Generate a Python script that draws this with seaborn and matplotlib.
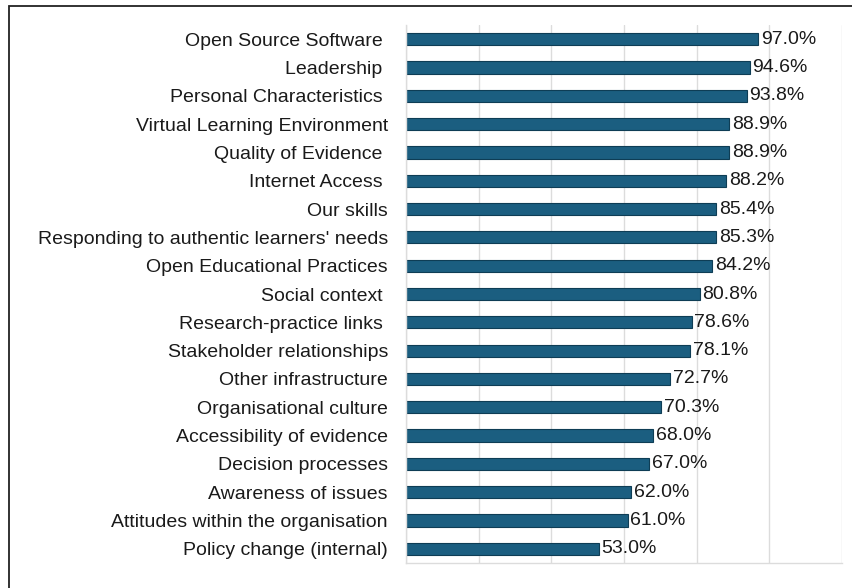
import matplotlib
matplotlib.use("Agg")
import matplotlib.pyplot as plt
import seaborn as sns
import pandas as pd
from matplotlib.patches import Rectangle

factors = [
    "Open Source Software ",
    "Leadership ",
    "Personal Characteristics ",
    "Virtual Learning Environment",
    "Quality of Evidence ",
    "Internet Access ",
    "Our skills",
    "Responding to authentic learners' needs",
    "Open Educational Practices",
    "Social context ",
    "Research-practice links ",
    "Stakeholder relationships",
    "Other infrastructure",
    "Organisational culture",
    "Accessibility of evidence",
    "Decision processes",
    "Awareness of issues",
    "Attitudes within the organisation",
    "Policy change (internal)",
]
percentages = [97.0, 94.6, 93.8, 88.9, 88.9, 88.2, 85.4, 85.3, 84.2, 80.8,
               78.6, 78.1, 72.7, 70.3, 68.0, 67.0, 62.0, 61.0, 53.0]

df = pd.DataFrame({"factor": factors, "pct": percentages})

sns.set_theme(style="white")
plt.rcParams["font.family"] = ["Liberation Sans", "DejaVu Sans"]

fig = plt.figure(figsize=(8.53, 5.88), dpi=100)
ax = fig.add_axes([406 / 853, 1 - 563 / 588, (842 - 406) / 853, (563 - 25) / 588])

sns.barplot(data=df, x="pct", y="factor", orient="h", color="#1b5e80",
            saturation=1, width=0.43, edgecolor="#0e3d55", linewidth=0.8, ax=ax)

for container in ax.containers:
    ax.bar_label(container, labels=[f"{v:.1f}%" for v in percentages],
                 padding=2, fontsize=14, color="#1a1a1a")

ax.set_xlim(0, 120)
ax.set_ylim(18.5, -0.5)
ax.set_xticks(range(0, 121, 20))
ax.xaxis.grid(True, color="#dcdcdc", linewidth=1)
ax.set_axisbelow(True)
ax.tick_params(axis="x", labelbottom=False, length=0)
ax.tick_params(axis="y", length=0, pad=13, labelsize=14, labelcolor="#1a1a1a")
ax.set_xlabel("")
ax.set_ylabel("")
for side in ["top", "right"]:
    ax.spines[side].set_visible(False)
for side in ["left", "bottom"]:
    ax.spines[side].set_color("#dcdcdc")
    ax.spines[side].set_linewidth(1)

# frame around the figure
fig.patches.append(Rectangle((9 / 853, -0.05), 1.1, 1 - 6 / 588 + 0.05,
                             transform=fig.transFigure, fill=False,
                             edgecolor="#222222", linewidth=1.3))

fig.savefig("out.png", dpi=100)
